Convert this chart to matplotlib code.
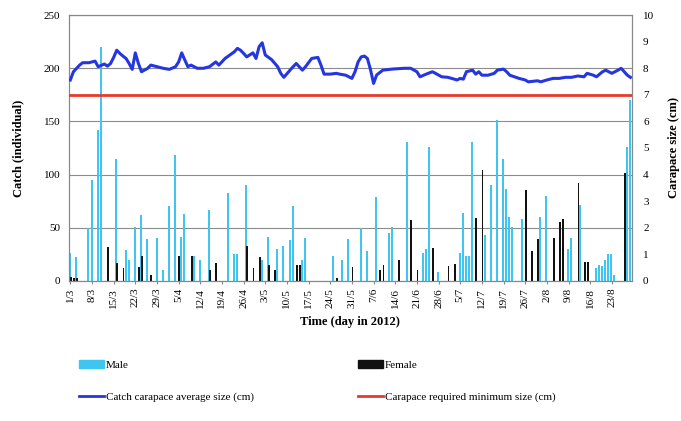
import numpy as np
import matplotlib
matplotlib.use('Agg')
import matplotlib.pyplot as plt
from matplotlib.patches import Patch
from matplotlib.lines import Line2D

plt.rcParams['font.family'] = ['Liberation Serif', 'DejaVu Serif']

# one category per day, labelled weekly
n_days = 182
tick_labels = ["1/3", "8/3", "15/3", "22/3", "29/3", "5/4", "12/4", "19/4", "26/4",
               "3/5", "10/5", "17/5", "24/5", "31/5", "7/6", "14/6", "21/6", "28/6",
               "5/7", "12/7", "19/7", "26/7", "2/8", "9/8", "16/8", "23/8"]

# catch (individuals) per day
male_days = [0, 2, 6, 7, 9, 10, 15, 18, 19, 21, 23, 25, 28, 30, 32, 34, 36, 37, 40, 42,
             45, 51, 53, 54, 57, 62, 64, 67, 69, 71, 72, 75, 76, 85, 88, 90, 94, 96, 99,
             103, 104, 109, 114, 115, 116, 119, 126, 127, 128, 129, 130, 134, 136, 138,
             140, 141, 142, 143, 146, 152, 154, 161, 162, 165, 170, 171, 172, 173, 174,
             175, 176, 180, 181]
male_catch = [26, 22, 50, 95, 142, 220, 115, 29, 20, 51, 62, 39, 40, 10, 70, 118, 41, 63,
              23, 20, 67, 83, 25, 25, 90, 20, 41, 30, 33, 38, 70, 20, 40, 23, 20, 39, 50,
              28, 79, 45, 51, 131, 26, 30, 126, 8, 26, 64, 23, 23, 131, 43, 90, 151, 115,
              86, 60, 51, 58, 60, 80, 30, 40, 71, 12, 15, 14, 20, 25, 25, 5, 126, 170]

female_days = [0, 1, 2, 12, 15, 17, 22, 23, 26, 35, 39, 45, 47, 57, 59, 61, 64, 66, 73,
               74, 86, 91, 100, 101, 106, 110, 112, 117, 122, 124, 131, 133, 147, 149,
               151, 156, 158, 159, 164, 166, 167, 179]
female_catch = [4, 3, 3, 32, 17, 12, 13, 23, 5, 23, 23, 10, 17, 33, 12, 22, 15, 10, 15,
                15, 3, 13, 10, 15, 20, 57, 10, 31, 14, 16, 59, 104, 85, 28, 39, 40, 55,
                58, 92, 18, 18, 101]

# average carapace size of the catch (cm)
size_days = [0, 1, 3, 4, 6, 7, 8, 9, 11, 12, 13, 14, 15, 16, 17, 18, 19, 20, 21, 22, 23,
             25, 26, 28, 30, 32, 34, 35, 36, 37, 38, 39, 41, 43, 45, 47, 48, 50, 53, 54,
             55, 56, 57, 59, 60, 61, 62, 63, 65, 67, 68, 69, 71, 72, 73, 75, 76, 78, 80,
             81, 82, 84, 86, 87, 89, 91, 92, 93, 94, 95, 96, 97, 98, 99, 101, 104, 108,
             110, 112, 113, 115, 117, 118, 120, 122, 125, 126, 127, 128, 130, 131, 132,
             133, 135, 137, 138, 140, 141, 142, 144, 145, 147, 148, 151, 152, 154, 156,
             158, 160, 162, 164, 166, 167, 169, 170, 172, 173, 175, 177, 178, 179, 180,
             181]
avg_size = [7.56, 7.87, 8.12, 8.21, 8.21, 8.24, 8.27, 8.06, 8.16, 8.08, 8.18, 8.41, 8.68,
            8.56, 8.46, 8.37, 8.18, 7.96, 8.58, 8.18, 7.87, 8.0, 8.12, 8.06, 8.0, 7.96,
            8.06, 8.24, 8.58, 8.31, 8.06, 8.12, 8.0, 8.0, 8.06, 8.24, 8.12, 8.37, 8.62,
            8.75, 8.68, 8.56, 8.43, 8.58, 8.37, 8.81, 8.96, 8.5, 8.33, 8.06, 7.81, 7.66,
            7.93, 8.06, 8.18, 7.93, 8.06, 8.37, 8.41, 8.12, 7.78, 7.78, 7.81, 7.78, 7.74,
            7.62, 7.87, 8.24, 8.43, 8.46, 8.37, 7.95, 7.43, 7.75, 7.93, 7.97, 8.0, 8.0,
            7.87, 7.68, 7.78, 7.87, 7.81, 7.68, 7.66, 7.56, 7.62, 7.59, 7.87, 7.93, 7.78,
            7.87, 7.74, 7.74, 7.81, 7.93, 7.97, 7.87, 7.74, 7.66, 7.62, 7.56, 7.49, 7.53,
            7.49, 7.56, 7.62, 7.62, 7.66, 7.66, 7.71, 7.68, 7.81, 7.74, 7.68, 7.87, 7.93,
            7.81, 7.93, 8.0, 7.87, 7.74, 7.66]
min_size = 7.0

male_color = '#3ec6f0'
female_color = '#111111'
avg_color = '#2536e0'
min_color = '#e8392c'

fig = plt.figure(figsize=(6.81, 4.21), dpi=100)
ax = fig.add_axes([0.101, 0.333, 0.827, 0.631])

ax.bar(np.array(male_days) - 0.15, male_catch, width=0.65, color=male_color, zorder=2)
ax.bar(np.array(female_days) + 0.2, female_catch, width=0.6, color=female_color, zorder=2)

ax.set_xlim(-0.5, n_days - 0.5)
ax.set_ylim(0, 250)
ax.set_yticks(range(0, 251, 50))
ax.yaxis.grid(True, color='#8c8c8c', linewidth=0.8)
ax.set_axisbelow(True)
ax.set_xticks(np.arange(0, n_days, 7))
ax.set_xticklabels(tick_labels, rotation=90, fontsize=8)
ax.tick_params(axis='y', labelsize=8, length=0, pad=6)
ax.tick_params(axis='x', length=2, color='#888888', pad=3)
for s in ax.spines.values():
    s.set_color('#888888')
ax.set_ylabel('Catch (individual)', fontsize=9, fontweight='bold', labelpad=14)
ax.set_xlabel('Time (day in 2012)', fontsize=9, fontweight='bold', labelpad=6)

ax2 = ax.twinx()
ax2.plot(size_days, avg_size, color=avg_color, lw=2.2, zorder=3)
ax2.axhline(min_size, color=min_color, lw=2.0, zorder=3)
ax2.set_ylim(0, 10)
ax2.set_yticks(range(0, 11))
ax2.tick_params(axis='y', labelsize=8, length=0, pad=8)
for s in ax2.spines.values():
    s.set_color('#888888')
ax2.set_ylabel('Carapace size (cm)', fontsize=9, fontweight='bold', labelpad=10)

handles = [Patch(color=male_color), Line2D([], [], color=avg_color, lw=2),
           Patch(color=female_color), Line2D([], [], color=min_color, lw=2)]
labels = ['Male', 'Catch carapace average size (cm)',
          'Female', 'Carapace required minimum size (cm)']
fig.legend(handles, labels, ncol=2, loc='upper left', bbox_to_anchor=(0.11, 0.155),
           frameon=False, fontsize=8, handlelength=2.2, handletextpad=0.2,
           columnspacing=9.4, labelspacing=2.0, borderaxespad=0)

fig.savefig('out.png', dpi=100)
